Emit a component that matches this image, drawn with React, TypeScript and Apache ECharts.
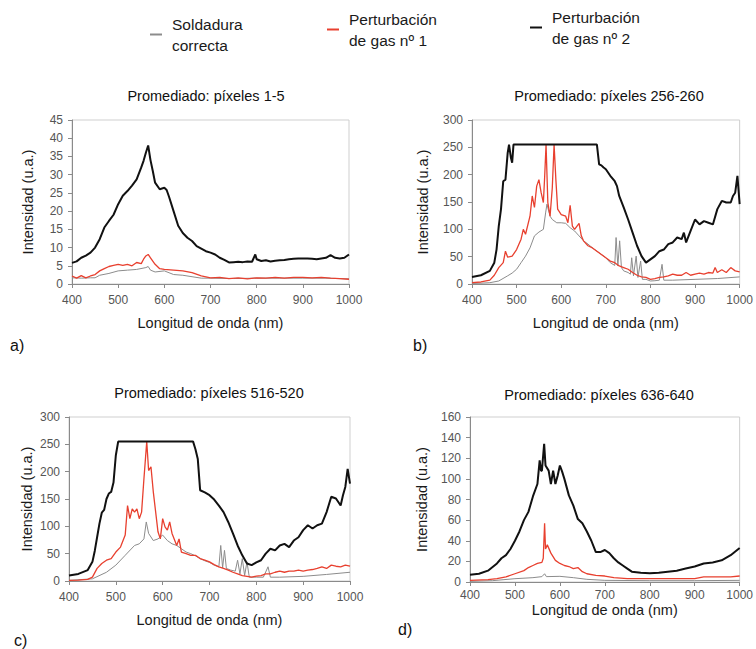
import React, { useEffect, useRef } from "react";
import * as echarts from "echarts";

// ---- legend / series names ----
const seriesNames = ["Soldadura correcta", "Perturbación de gas nº 1", "Perturbación de gas nº 2"];
const legendLines = [["Soldadura", "correcta"], ["Perturbación", "de gas nº 1"], ["Perturbación", "de gas nº 2"]];
const panelTitles = ["Promediado: píxeles 1-5", "Promediado: píxeles 256-260", "Promediado: píxeles 516-520", "Promediado: píxeles 636-640"];
const panelLetters = ["a)", "b)", "c)", "d)"];
const xTicks = { min: 400, max: 1000, interval: 100 };
const yMax = [45, 300, 300, 160];
const yInterval = [5, 50, 50, 20];

// ---- panel a: pixels 1-5 ----
const aGray: number[][] = [[400,1.7],[420,1.6],[440,1.7],[450,1.7],[460,2.4],[480,2.9],[500,3.6],[520,3.8],[540,4],[560,4.5],[565,4.8],[570,3.8],[580,3.3],[600,3.6],[620,2.6],[640,2.4],[660,2],[680,1.6],[700,1.6],[750,1.5],[800,1.6],[850,1.6],[900,1.6],[950,1.6],[1000,1.4]];
const aRed: number[][] = [[400,2.2],[410,1.6],[420,2.3],[430,1.7],[440,2.2],[450,2.6],[460,3.6],[470,4.2],[480,4.8],[490,5.1],[500,5.4],[510,5.1],[520,5.4],[530,5.0],[540,5.9],[550,5.6],[555,6.8],[560,7.7],[565,8.1],[570,7.2],[580,5.4],[590,4.2],[600,4],[620,3.8],[640,3.6],[660,3.1],[680,2.2],[700,1.7],[720,1.8],[740,1.5],[760,1.7],[780,1.4],[800,1.7],[820,1.6],[840,1.8],[860,1.6],[880,1.8],[900,1.8],[920,1.7],[940,1.8],[960,1.6],[980,1.5],[1000,1.3]];
const aBlack: number[][] = [[400,5.8],[410,6.2],[420,7.2],[430,7.8],[440,8.6],[450,10],[460,12.3],[470,15.5],[480,17.3],[490,19],[500,21.9],[510,24.2],[520,25.5],[530,27],[540,28.7],[550,32],[555,33.8],[560,36],[565,38],[570,34],[575,31],[580,27.8],[590,26],[600,26.4],[605,25.8],[610,24],[620,20],[630,16],[640,14],[650,12.7],[660,11.8],[670,10.4],[680,9.7],[690,9],[700,8.6],[710,8.1],[720,7.2],[730,6.6],[740,5.9],[750,6],[760,6.1],[770,6],[780,6.2],[790,6.1],[797,8.1],[800,6.8],[810,6.3],[820,6.5],[830,6.2],[840,6.4],[850,6.5],[860,6.6],[870,6.8],[880,6.9],[890,7],[900,7],[910,7],[920,6.9],[930,6.8],[940,7],[950,7.2],[960,7.9],[970,7.2],[980,7],[990,7.2],[1000,8.1]];

// ---- panel b: pixels 256-260 ----
const bGray: number[][] = [[400,1],[420,1.5],[440,2.4],[460,5.5],[480,15],[490,20],[500,27],[510,39],[520,51],[530,66],[540,88],[550,95],[560,100],[565,130],[568,146],[575,124],[580,118],[590,112],[600,112],[610,111],[620,103],[630,97],[640,88],[650,79],[660,73],[670,66],[680,60],[690,54],[700,48],[710,39],[720,34],[723,85],[727,33],[731,79],[735,30],[740,24],[750,21],[755,18],[758,48],[762,15],[768,51],[772,12],[778,42],[782,8.5],[790,8.5],[800,5.5],[810,6],[820,7],[826,36],[830,7],[850,7],[900,8.5],[950,10],[1000,13]];
const bRed: number[][] = [[400,2.4],[420,3.7],[440,7],[450,16],[460,30],[470,39],[475,60],[480,49],[490,51],[500,63],[510,82],[515,100],[520,91],[530,124],[535,161],[540,140],[545,179],[550,191],[555,167],[560,149],[563,198],[566,255],[570,149],[575,124],[580,176],[584,255],[588,191],[592,137],[600,127],[610,124],[615,112],[620,144],[625,106],[630,100],[640,111],[645,88],[650,79],[660,70],[670,66],[680,60],[690,54],[700,48],[710,42],[720,39],[730,33],[740,30],[750,27],[760,21],[770,16],[780,13],[790,12],[800,8.5],[810,10],[820,12],[830,13],[840,15],[850,18],[860,16],[870,16],[880,21],[890,16],[900,18],[910,20],[920,18],[930,21],[940,20],[945,30],[950,21],[960,26],[970,21],[980,30],[990,24],[1000,22]];
const bBlack: number[][] = [[400,13],[420,16],[440,24],[450,39],[455,63],[460,106],[465,137],[470,188],[475,191],[480,240],[483,255],[487,232],[490,222],[493,255],[680,255],[685,219],[690,217],[695,213],[700,210],[710,198],[720,188],[725,179],[730,161],[740,140],[750,118],[760,94],[770,70],[780,51],[790,39],[800,45],[810,51],[820,60],[830,63],[840,73],[850,76],[860,85],[870,82],[875,94],[880,76],[890,97],[900,118],[910,109],[920,115],[930,112],[940,109],[950,137],[960,152],[970,149],[980,149],[985,161],[990,167],[995,198],[1000,146]];

// ---- panel c: pixels 516-520 ----
const cGray: number[][] = [[400,1.2],[450,4],[480,16],[500,29],[520,47],[540,65],[550,68],[560,77],[565,108],[570,87],[580,74],[590,77],[600,84],[610,74],[620,68],[630,65],[640,59],[650,53],[660,50],[670,46],[680,41],[690,37],[700,34],[710,29],[720,26],[724,65],[728,24],[732,56],[736,23],[745,20],[755,18],[760,38],[765,13],[770,41],[775,10],[780,35],[785,7],[800,7],[815,7],[825,26],[830,7],[850,7],[900,8.5],[950,12],[1000,16]];
const cRed: number[][] = [[400,1.2],[420,1.5],[440,3],[450,7],[460,23],[470,32],[480,38],[490,41],[500,53],[510,62],[520,84],[525,138],[530,114],[535,132],[540,126],[545,132],[550,114],[555,126],[560,187],[566,255],[570,202],[575,209],[580,163],[590,90],[595,77],[600,114],[605,99],[610,93],[615,108],[620,87],[630,65],[635,77],[640,53],[650,50],[660,47],[670,47],[680,41],[690,38],[700,35],[710,30],[720,26],[730,23],[740,20],[750,16],[760,13],[770,10],[780,8.5],[790,7],[800,9],[810,10],[820,13],[830,13],[840,16],[850,18],[860,16],[870,18],[880,18],[890,20],[900,18],[910,20],[920,21],[930,23],[940,26],[950,23],[960,29],[970,27],[980,26],[990,29],[1000,27]];
const cBlack: number[][] = [[400,10],[420,13],[440,20],[450,35],[455,55],[460,80],[465,105],[470,125],[475,130],[480,150],[485,160],[490,163],[495,180],[500,230],[505,255],[665,255],[670,241],[675,223],[680,166],[690,162],[700,157],[710,149],[720,138],[730,126],[740,108],[750,87],[760,65],[770,47],[780,32],[790,29],[800,34],[810,38],[820,50],[830,59],[840,56],[850,65],[860,68],[870,62],[880,74],[890,80],[900,93],[910,102],[920,96],[930,102],[940,105],[950,126],[960,154],[970,151],[980,138],[985,157],[990,172],[995,205],[1000,178]];

// ---- panel d: pixels 636-640 ----
const dGray: number[][] = [[400,0.6],[450,1.3],[500,3.2],[540,4.2],[560,5.2],[566,8],[570,5.2],[600,5.5],[630,4.2],[660,2.6],[700,1.6],[800,1.3],[900,1.3],[1000,1.6]];
const dRed: number[][] = [[400,1.6],[440,2.3],[460,3.2],[480,5],[500,8],[520,11],[530,14],[540,16],[550,18],[560,19],[563,23],[566,57],[568,32],[572,36],[580,28],[590,21],[600,18],[610,16],[620,15],[630,13],[640,14],[650,10],[660,8],[680,6.5],[700,5.8],[720,4.2],[750,3.2],[800,3.2],[850,3.2],[900,3.2],[920,5],[950,5],[980,5],[1000,5.8]];
const dBlack: number[][] = [[400,7],[420,8],[440,11],[460,18],[470,23],[480,26],[490,32],[500,40],[510,49],[520,60],[530,68],[540,83],[550,95],[555,118],[558,108],[560,108],[565,134],[568,113],[575,108],[580,95],[585,108],[590,95],[595,103],[600,113],[605,107],[610,100],[620,84],[630,74],[640,61],[650,57],[660,49],[670,40],[680,29],[690,29],[700,31],[710,28],[720,23],[730,19],[740,16],[750,13],[760,10],[780,9],[800,8.4],[820,9],[840,10],[860,11],[880,13],[900,15],[920,18],[940,19],[960,21],[980,26],[1000,33]];

const panelData = [
  [aGray, aRed, aBlack],
  [bGray, bRed, bBlack],
  [cGray, cRed, cBlack],
  [dGray, dRed, dBlack],
];

// layout (pixels)
const grids = [
  { left: 72, top: 120, width: 277, height: 164 },
  { left: 472, top: 120, width: 270, height: 164 },
  { left: 69, top: 417, width: 281, height: 164 },
  { left: 470, top: 417, width: 272, height: 165 },
];
const xNameGap = [31, 31, 31, 20];
const xLabelMargin = [10, 10, 10, 7];
const yNameGap = [37, 42, 35, 41];
const titlePos = [[206, 96], [609, 96], [209, 393], [599, 395]];
const letterPos = [[10, 345], [413, 345], [14, 640], [398, 629]];
const legendPos = [[145, 11], [322, 6], [525, 4]];

const colors = ["#8c8c8c", "#e8402f", "#111111"];
const widths = [1, 1.3, 2];
const FONT = "Liberation Sans, Arial, sans-serif";

export default function App() {
  const ref = useRef<HTMLDivElement>(null);
  useEffect(() => {
    if (!ref.current) return;
    const chart = echarts.init(ref.current, null, { renderer: "svg" });
    const axisColor = "#8a8a8a";
    const xAxis = grids.map((_, i) => ({
      type: "value",
      gridIndex: i,
      min: xTicks.min,
      max: xTicks.max,
      interval: xTicks.interval,
      name: "Longitud de onda (nm)",
      nameLocation: "middle",
      nameGap: xNameGap[i],
      nameTextStyle: { fontSize: 14.5, color: "#1a1a1a", fontFamily: FONT },
      axisLine: { show: true, lineStyle: { color: axisColor, width: 1 } },
      axisTick: { show: true, inside: false, length: 4, lineStyle: { color: axisColor } },
      axisLabel: { fontSize: 12, color: "#555", margin: xLabelMargin[i], fontFamily: FONT, formatter: (v: number) => String(v) },
      splitLine: { show: false },
    }));
    const yAxis = grids.map((_, i) => ({
      type: "value",
      gridIndex: i,
      min: 0,
      max: yMax[i],
      interval: yInterval[i],
      name: "Intensidad (u.a.)",
      nameLocation: "middle",
      nameGap: yNameGap[i],
      nameTextStyle: { fontSize: 14.5, color: "#1a1a1a", fontFamily: FONT },
      axisLine: { show: true, lineStyle: { color: axisColor, width: 1 } },
      axisTick: { show: true, inside: false, length: 4, lineStyle: { color: axisColor } },
      axisLabel: { fontSize: 12, color: "#555", margin: 9, fontFamily: FONT, formatter: (v: number) => String(v) },
      splitLine: { show: false },
    }));
    const series: any[] = [];
    panelData.forEach((sets, p) => {
      sets.forEach((data, k) => {
        series.push({
          type: "line",
          name: seriesNames[k],
          xAxisIndex: p,
          yAxisIndex: p,
          data,
          showSymbol: false,
          symbol: "none",
          z: 2 + k,
          lineStyle: { color: colors[k], width: widths[k] },
          itemStyle: { color: colors[k] },
        });
      });
    });
    const legend = seriesNames.map((n, k) => ({
      data: [n],
      left: legendPos[k][0],
      top: legendPos[k][1],
      orient: "horizontal",
      icon: "rect",
      itemWidth: 12,
      itemHeight: 2,
      selectedMode: false,
      formatter: () => `{t|${legendLines[k][0]}}\n{t|${legendLines[k][1]}}`,
      textStyle: {
        rich: { t: { fontSize: 15.5, lineHeight: 21, color: "#1a1a1a", fontFamily: FONT, padding: [0, 0, 0, 5] } },
      },
    }));
    const graphic: any[] = [];
    panelTitles.forEach((t, i) => {
      graphic.push({
        type: "text",
        x: titlePos[i][0],
        y: titlePos[i][1],
        style: { text: t, fontSize: 14.5, fill: "#111", fontFamily: FONT, textAlign: "center", textVerticalAlign: "middle" },
      });
    });
    panelLetters.forEach((t, i) => {
      graphic.push({
        type: "text",
        x: letterPos[i][0],
        y: letterPos[i][1],
        style: { text: t, fontSize: 16, fill: "#111", fontFamily: FONT, textAlign: "left", textVerticalAlign: "middle" },
      });
    });
    chart.setOption({
      animation: false,
      backgroundColor: "#ffffff",
      textStyle: { fontFamily: FONT },
      grid: grids.map((g) => ({ ...g, show: true, borderColor: "#cfcfcf", borderWidth: 1, backgroundColor: "transparent", containLabel: false })),
      xAxis,
      yAxis,
      legend,
      graphic,
      series,
    });
    return () => chart.dispose();
  }, []);
  return <div ref={ref} style={{ position: "fixed", left: 0, top: 0, width: 756, height: 649 }} />;
}
